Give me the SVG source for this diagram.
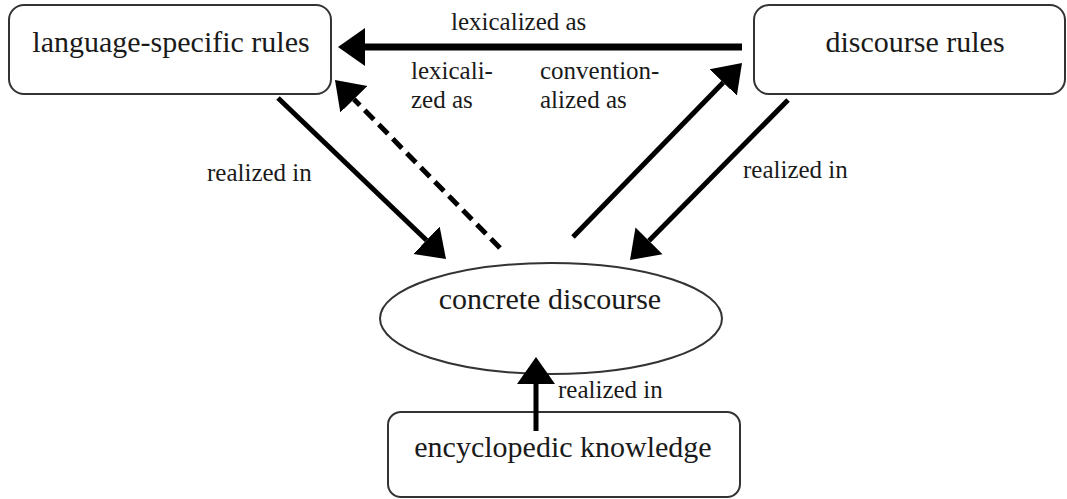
<svg xmlns="http://www.w3.org/2000/svg" width="1067" height="499" viewBox="0 0 1067 499">
  <style>
    .box { fill: #ffffff; stroke: #333333; stroke-width: 2; }
    .node-text { font-size: 30px; fill: #1a1a1a; text-anchor: middle; }
    .label { font-size: 25px; fill: #1a1a1a; }
    .edge { fill: none; stroke: #000000; stroke-width: 5; }
    .thick { stroke-width: 7; }
    .dashed { stroke-dasharray: 13 7; }
  </style>
  <defs>
    <marker id="head" markerUnits="userSpaceOnUse" markerWidth="28" markerHeight="40" refX="0" refY="20" orient="auto">
      <path d="M0,1 L27,20 L0,39 Z" fill="#000000"/>
    </marker>
  </defs>

  <rect width="1067" height="499" fill="#ffffff"/>

  <g font-family="Liberation Serif, Times New Roman, Times, DejaVu Serif, serif">
    <g id="language-specific-rules">
      <rect class="box" x="9" y="5" width="322" height="89" rx="15" ry="15"/>
      <text class="node-text" x="171" y="52">language-specific rules</text>
    </g>

    <g id="discourse-rules">
      <rect class="box" x="754" y="5" width="311" height="89" rx="15" ry="15"/>
      <text class="node-text" x="915" y="52">discourse rules</text>
    </g>

    <g id="concrete-discourse">
      <ellipse class="box" cx="551" cy="318.5" rx="171" ry="55.5" stroke-width="1.6"/>
      <text class="node-text" x="550" y="309">concrete discourse</text>
    </g>

    <g id="encyclopedic-knowledge">
      <rect class="box" x="388" y="412" width="352" height="85" rx="13" ry="13"/>
      <text class="node-text" x="563" y="457">encyclopedic knowledge</text>
    </g>

    <g id="connectors">
      <!-- discourse rules -> language-specific rules -->
      <path class="edge thick" d="M742,47 L365,47" marker-end="url(#head)"/>
      <!-- language-specific rules -> concrete discourse -->
      <path class="edge" d="M278,98 L426.5,240.3" marker-end="url(#head)"/>
      <!-- concrete discourse -> language-specific rules (dashed) -->
      <path class="edge dashed" d="M500,248 L353.9,99.3" marker-end="url(#head)"/>
      <!-- concrete discourse -> discourse rules -->
      <path class="edge" d="M573,237 L723.2,82.4" marker-end="url(#head)"/>
      <!-- discourse rules -> concrete discourse -->
      <path class="edge" d="M788,100 L649,240.8" marker-end="url(#head)"/>
      <!-- encyclopedic knowledge -> concrete discourse -->
      <path class="edge" d="M536,431 L536,384" marker-end="url(#head)"/>

      <text class="label" x="451" y="30">lexicalized as</text>
      <text class="label" x="411" y="79">lexicali-</text>
      <text class="label" x="411" y="108">zed as</text>
      <text class="label" x="540" y="79">convention-</text>
      <text class="label" x="540" y="108">alized as</text>
      <text class="label" x="207" y="181">realized in</text>
      <text class="label" x="743" y="178">realized in</text>
      <text class="label" x="558" y="398">realized in</text>
    </g>
  </g>
</svg>
